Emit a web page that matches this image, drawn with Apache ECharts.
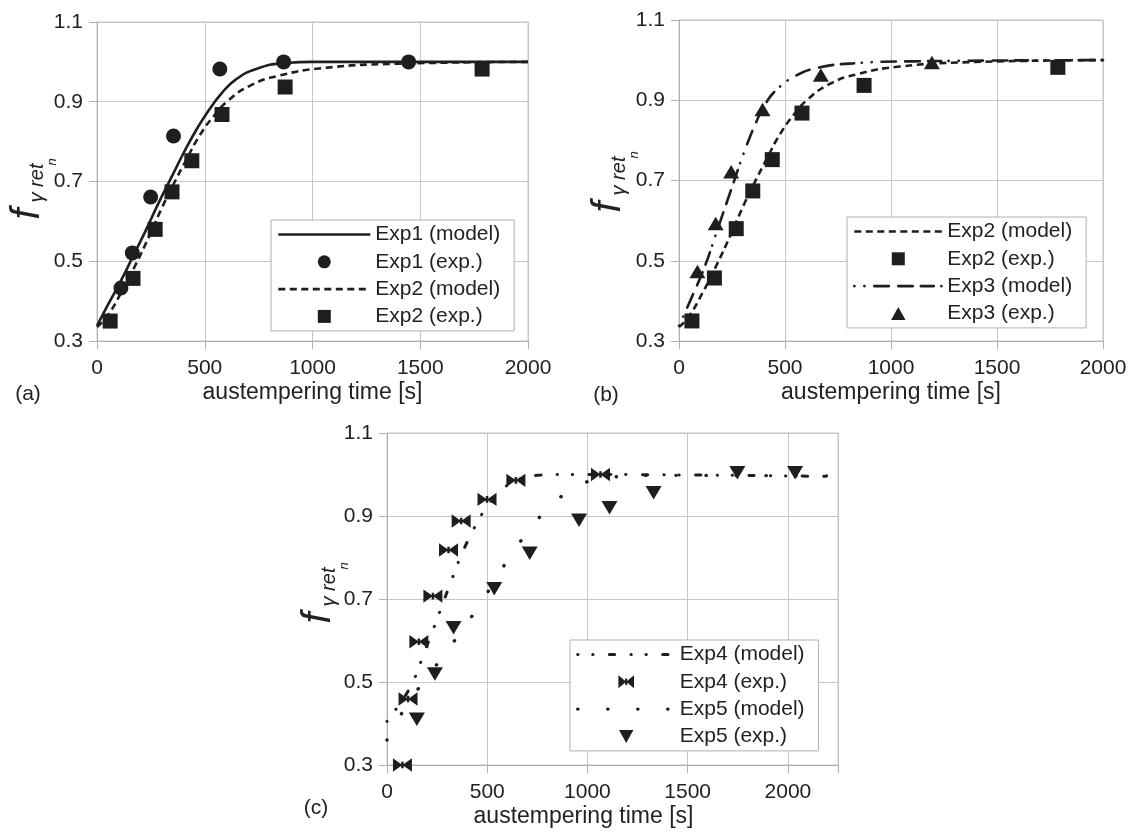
<!DOCTYPE html>
<html>
<head>
<meta charset="utf-8">
<script src="https://cdn.jsdelivr.net/npm/echarts@6/dist/echarts.min.js"></script>
<style>
  html, body { margin: 0; padding: 0; background: #fff; }
  #chart { width: 1136px; height: 834px; }
</style>
</head>
<body>
<div id="chart"></div>
<script>
// axis ticks
const xTicks = [0, 500, 1000, 1500, 2000];
const xMaxC = 2250;
const yTicks = [0.3, 0.5, 0.7, 0.9, 1.1];

// Exp1 (panel a)
const exp1Model = [[0, 0.338], [50, 0.39], [110, 0.45], [165, 0.51], [227, 0.578], [285, 0.645], [355, 0.721], [410, 0.78], [468, 0.836], [518, 0.878], [576, 0.92], [642, 0.955], [742, 0.983], [875, 0.997], [1000, 1.0], [2000, 1.0]];
const exp1Exp = [[111, 0.433], [164, 0.521], [249, 0.661], [355, 0.814], [570, 0.982], [866, 1.0], [1446, 1.0]];

// Exp2 (panels a, b)
const exp2Model = [[0, 0.335], [45, 0.36], [111, 0.42], [178, 0.49], [244, 0.565], [302, 0.635], [352, 0.69], [410, 0.75], [476, 0.815], [543, 0.865], [609, 0.903], [709, 0.94], [841, 0.965], [1041, 0.984], [1373, 0.995], [2000, 1.0]];
const exp2Exp = [[61, 0.35], [167, 0.457], [270, 0.58], [348, 0.674], [440, 0.752], [580, 0.868], [873, 0.937], [1787, 0.982]];

// Exp3 (panel b)
const exp3Model = [[0, 0.338], [61, 0.41], [121, 0.485], [181, 0.577], [251, 0.685], [311, 0.776], [372, 0.855], [410, 0.893], [458, 0.925], [544, 0.959], [648, 0.98], [821, 0.992], [1100, 0.997], [2000, 1.0]];
const exp3Exp = [[87, 0.473], [173, 0.593], [246, 0.722], [394, 0.877], [669, 0.963], [1193, 0.994]];

// Exp4, Exp5 (panel c)
const exp4Model = [[0, 0.405], [60, 0.445], [119, 0.49], [151, 0.525], [181, 0.565], [223, 0.617], [250, 0.652], [279, 0.69], [318, 0.74], [343, 0.772], [374, 0.81], [428, 0.864], [458, 0.892], [520, 0.937], [584, 0.968], [650, 0.987], [750, 0.998], [900, 1.0], [2250, 0.995]];
const exp4Exp = [[77, 0.3], [105, 0.459], [159, 0.597], [229, 0.707], [307, 0.818], [370, 0.888], [499, 0.94], [643, 0.986], [1065, 1.0]];
const exp5Model = [[0, 0.36], [42, 0.40], [110, 0.45], [180, 0.50], [245, 0.54], [307, 0.58], [397, 0.64], [481, 0.70], [565, 0.766], [649, 0.827], [745, 0.888], [851, 0.94], [986, 0.98], [1120, 0.994], [1400, 0.998], [2250, 0.996]];
const exp5Exp = [[149, 0.41], [239, 0.519], [332, 0.631], [535, 0.725], [712, 0.81], [958, 0.89], [1110, 0.92], [1330, 0.956], [1748, 1.004], [2036, 1.004]];

const FONT = '"Liberation Sans", Arial, sans-serif';
const INK = '#1e1e1e';
const TXT = '#222';
const GRID_C = '#c6c6c6';
const AXIS_C = '#b0b0b0';

// marker shapes as paths so they keep their aspect in the legend too
const square = 'path://M0,0h10v10h-10z';
const upTri = 'path://M5,0L10,9L0,9Z';
const downTri = 'path://M0,0L10,0L5,9Z';
const bowtie = 'path://M0,0L6,5L0,10Z M12,0L12,10L6,5Z M5.2,2.5h1.6v5h-1.6z';

let myChart = echarts.init(document.getElementById('chart'));

function xAxisOf(idx, max, shift) {
    return {
        type: 'value', gridIndex: idx,
        min: xTicks[0], max: max, interval: xTicks[1] - xTicks[0],
        name: 'austempering time [s]', nameLocation: 'middle', nameGap: 40,
        nameTextStyle: { fontSize: 23, color: TXT, fontFamily: FONT, padding: [0, shift, 0, 0] },
        axisLine: { show: true, onZero: false, lineStyle: { color: AXIS_C } },
        axisTick: { show: true, length: 8, lineStyle: { color: AXIS_C } },
        axisLabel: {
            fontSize: 21, color: TXT, fontFamily: FONT, margin: 17,
            formatter: v => (xTicks.indexOf(v) >= 0 ? String(v) : '')
        },
        splitLine: { show: true, lineStyle: { color: GRID_C } }
    };
}

function yAxisOf(idx) {
    return {
        type: 'value', gridIndex: idx,
        min: yTicks[0], max: yTicks[yTicks.length - 1], interval: yTicks[1] - yTicks[0],
        axisLine: { show: true, lineStyle: { color: AXIS_C } },
        axisTick: { show: true, length: 8, lineStyle: { color: AXIS_C } },
        axisLabel: { fontSize: 21, color: TXT, fontFamily: FONT, margin: 14, formatter: v => v.toFixed(1) },
        splitLine: { show: true, lineStyle: { color: GRID_C } }
    };
}

function modelLine(name, data, idx, style) {
    return {
        name: name, type: 'line', data: data, xAxisIndex: idx, yAxisIndex: idx,
        symbol: 'none', smooth: 0.5, color: INK,
        lineStyle: Object.assign({ color: INK, opacity: 1 }, style), z: 2, silent: true
    };
}

function expPoints(name, data, idx, symbol, size) {
    return {
        name: name, type: 'scatter', data: data, xAxisIndex: idx, yAxisIndex: idx,
        symbol: symbol, symbolSize: size, symbolKeepAspect: true, color: INK,
        itemStyle: { color: INK, opacity: 1 },
        z: 3, clip: false, silent: true
    };
}

// line entries: hide the marker ECharts puts in the middle of the legend line
function lineItem(name) {
    return { name: name, itemStyle: { color: 'rgba(0,0,0,0)', borderWidth: 0 } };
}

function legendOf(left, top, iconW, names) {
    return {
        orient: 'vertical', left: left, top: top,
        padding: [4, 14, 4, 6], itemGap: 6.3, itemWidth: iconW, itemHeight: 13,
        symbolKeepAspect: true,
        lineStyle: { width: 'inherit', type: 'inherit', cap: 'inherit' },
        backgroundColor: '#fff', borderColor: AXIS_C, borderWidth: 1, borderRadius: 0,
        selectedMode: false,
        textStyle: { fontSize: 21, color: TXT, fontFamily: FONT, lineHeight: 21 },
        data: names
    };
}

// y-axis name  f_{γ ret_n}, drawn rotated
function yName(x, y) {
    const it = (txt, lx, ly, size) => ({
        type: 'text', x: lx, y: ly,
        style: { text: txt, fontSize: size, fontStyle: 'italic', fontFamily: FONT, fill: TXT, align: 'center', verticalAlign: 'middle' }
    });
    return {
        type: 'group', x: x, y: y, rotation: Math.PI / 2, silent: true,
        children: [it('f', 0, 0, 40), it('γ ret', 31, 10, 20), it('n', 52, 25, 13)]
    };
}

function tag(txt, x, y) {
    return {
        type: 'text', x: x, y: y, silent: true,
        style: { text: txt, fontSize: 21, fontFamily: FONT, fill: TXT, align: 'center', verticalAlign: 'middle' }
    };
}

const lineSolid = { width: 2.6, type: 'solid' };
const lineDash = { width: 2.6, type: [7, 4.5] };
const lineDashDot = { width: 2.6, type: [0.2, 9.8, 0.2, 9.8, 14.5, 9.5, 14.5, 8, 13, 7.5], cap: 'round' };
const lineDotDash = { width: 3, type: [0.3, 14.7, 0.3, 16.35, 5.3, 16.35], cap: 'round' };
const lineDots = { width: 3.4, type: [0.3, 29.7], cap: 'round' };

let option = {
    animation: false,
    backgroundColor: '#fff',
    textStyle: { fontFamily: FONT },
    grid: [
        { left: 97, top: 22, width: 431, height: 319, show: true, borderColor: GRID_C, borderWidth: 1 },
        { left: 679, top: 20, width: 424, height: 321, show: true, borderColor: GRID_C, borderWidth: 1 },
        { left: 387, top: 433, width: 451, height: 332, show: true, borderColor: GRID_C, borderWidth: 1 }
    ],
    xAxis: [xAxisOf(0, xTicks[xTicks.length - 1], 0), xAxisOf(1, xTicks[xTicks.length - 1], 0), xAxisOf(2, xMaxC, 58)],
    yAxis: [yAxisOf(0), yAxisOf(1), yAxisOf(2)],
    legend: [
        legendOf(271, 220, 92, [lineItem('Exp1 (model)'), 'Exp1 (exp.)', lineItem('Exp2 (model)'), 'Exp2 (exp.)']),
        legendOf(847, 217, 88, [lineItem('Exp2 (model)'), 'Exp2 (exp.)', lineItem('Exp3 (model)'), 'Exp3 (exp.)']),
        legendOf(570, 640, 97, [lineItem('Exp4 (model)'), 'Exp4 (exp.)', lineItem('Exp5 (model)'), 'Exp5 (exp.)'])
    ],
    graphic: [
        yName(27.5, 214), yName(609, 207), yName(319, 618),
        tag('(a)', 28, 394), tag('(b)', 606, 395), tag('(c)', 316, 808)
    ],
    series: [
        modelLine('Exp1 (model)', exp1Model, 0, lineSolid),
        expPoints('Exp1 (exp.)', exp1Exp, 0, 'circle', 15),
        modelLine('Exp2 (model)', exp2Model, 0, lineDash),
        expPoints('Exp2 (exp.)', exp2Exp, 0, square, 15),

        modelLine('Exp2 (model)', exp2Model, 1, lineDash),
        expPoints('Exp2 (exp.)', exp2Exp, 1, square, 15),
        modelLine('Exp3 (model)', exp3Model, 1, lineDashDot),
        expPoints('Exp3 (exp.)', exp3Exp, 1, upTri, [16, 15]),

        modelLine('Exp4 (model)', exp4Model, 2, lineDotDash),
        expPoints('Exp4 (exp.)', exp4Exp, 2, bowtie, [19, 16]),
        modelLine('Exp5 (model)', exp5Model, 2, lineDots),
        expPoints('Exp5 (exp.)', exp5Exp, 2, downTri, [16, 15])
    ]
};
myChart.setOption(option);
</script>
</body>
</html>
